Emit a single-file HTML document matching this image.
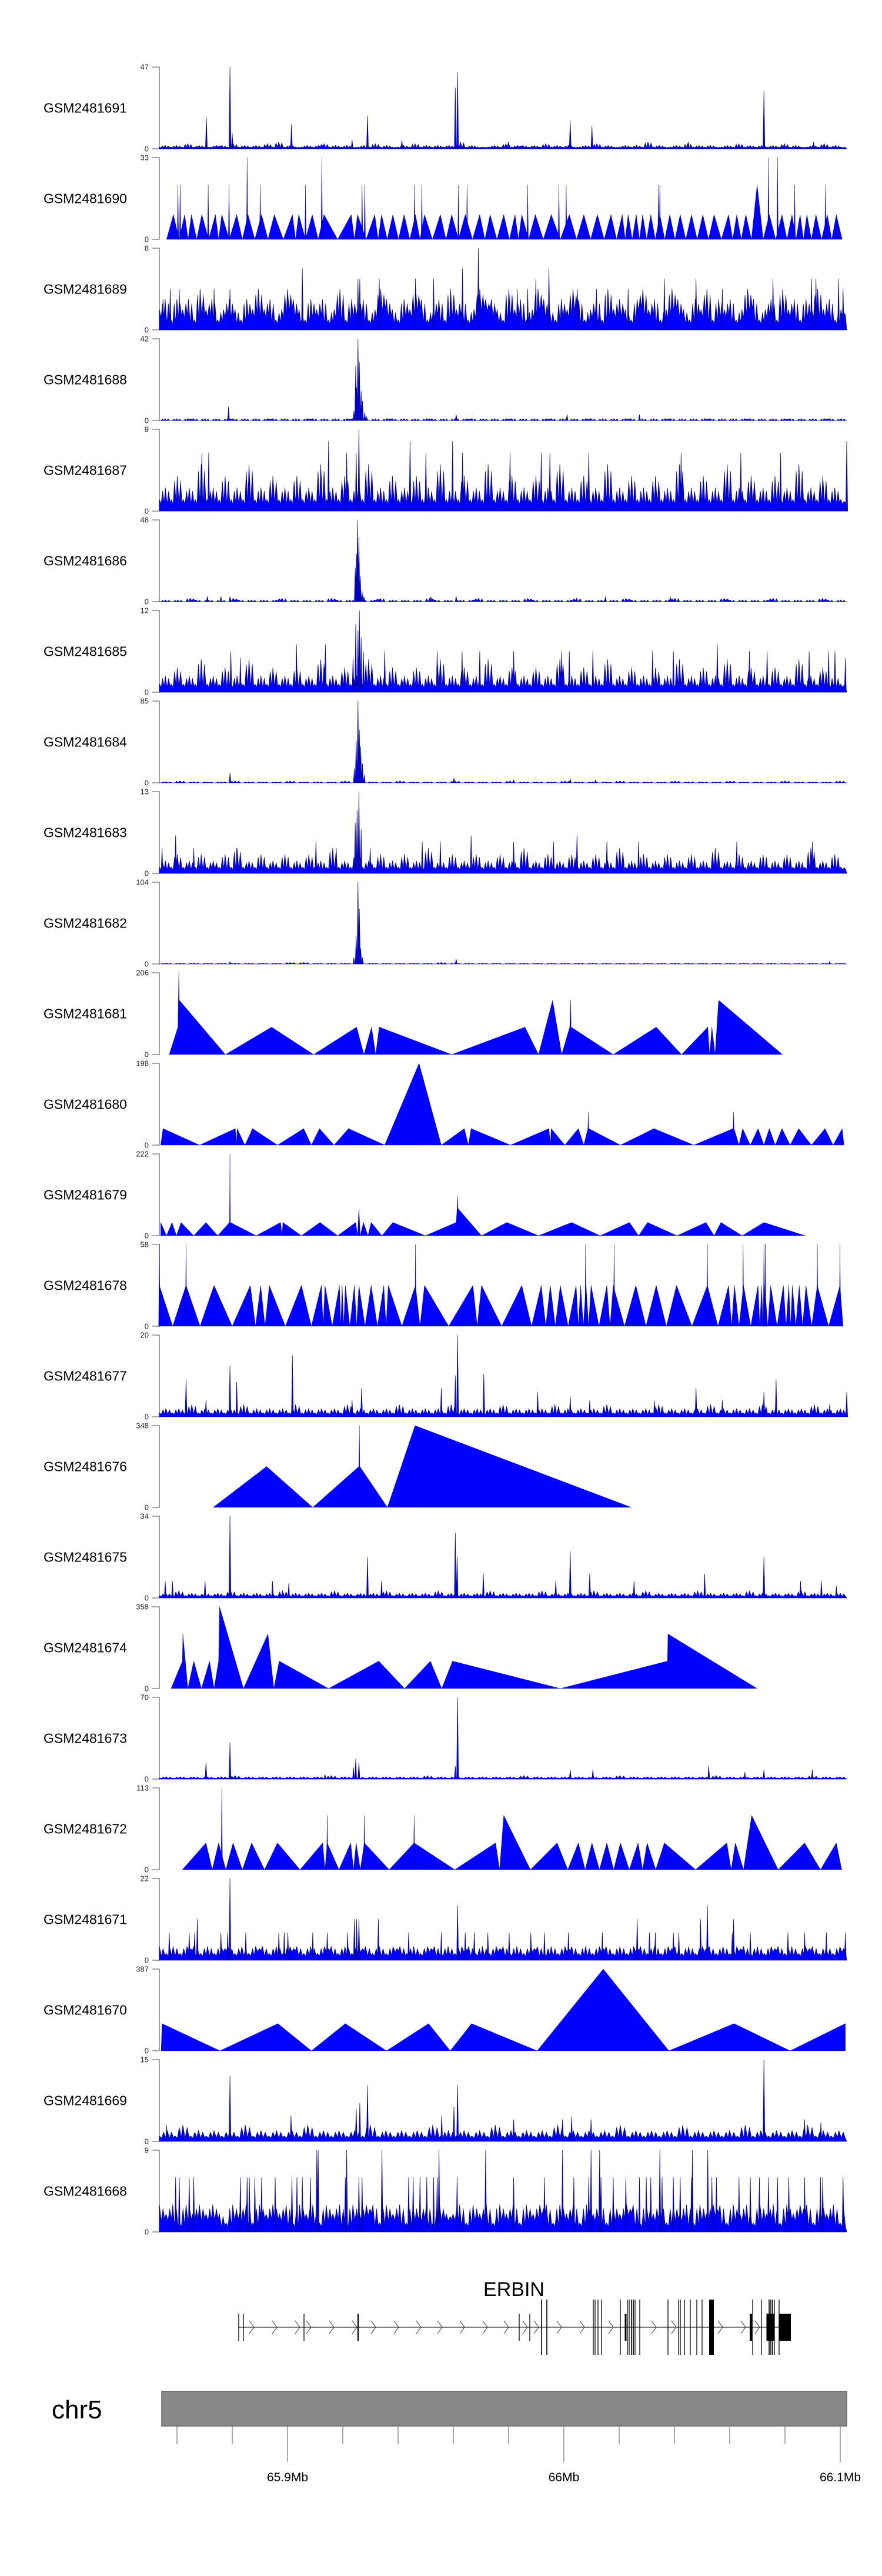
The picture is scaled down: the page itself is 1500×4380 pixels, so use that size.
<!DOCTYPE html>
<html><head><meta charset="utf-8"><title>ERBIN coverage tracks</title>
<style>
html,body{margin:0;padding:0;background:#fff;}
svg{display:block;font-family:"Liberation Sans",Arial,sans-serif;}
</style></head>
<body>
<svg id="chart" width="1500" height="4380" viewBox="0 0 1500 4380" xmlns="http://www.w3.org/2000/svg">
<rect x="0" y="0" width="1500" height="4380" fill="#fff"/>
<g id="tracks"></g>
<g id="gene"></g>
<g id="ideo"></g>
</svg>
<script>
// ---- track data (positions in relative window units 14..1533, values in read counts) ----
const trackNames = ["GSM2481691","GSM2481690","GSM2481689","GSM2481688","GSM2481687","GSM2481686","GSM2481685","GSM2481684","GSM2481683","GSM2481682","GSM2481681","GSM2481680","GSM2481679","GSM2481678","GSM2481677","GSM2481676","GSM2481675","GSM2481674","GSM2481673","GSM2481672","GSM2481671","GSM2481670","GSM2481669","GSM2481668"];
const trackMax = [47,33,8,42,9,48,12,85,13,104,206,198,222,58,20,348,34,358,70,113,22,387,15,9];
const trackKind = ["dense","apex","dense","dense","dense","dense","dense","dense","dense","dense","poly","poly","poly","apex","dense","poly","dense","poly","dense","apex","dense","poly","dense","dense"];

// dense tracks: background string (base-36 digits * unit) plus peak list
const base1691 = "1212131211221312121314121121231212112131211213121212141211121312212131212112131211212141211213121211213121212131211213121";
const peaks1691 = [[118,18],[170,47],[175,9],[306,14],[440,5],[474,19],[550,5],[668,35],[673,44],[785,4],[922,16],[970,13],[1183,4],[1350,33],[1460,4]];
const base1689 = "2313231423123213242312432132312413231243213243123142312433214231243213243123142321342312432132413231243123142313242312";
const peaks1689 = [[22,3],[38,4],[58,4],[135,4],[170,4],[330,6],[453,5],[457,5],[500,5],[580,5],[620,5],[684,6],[719,8],[805,4],[828,4],[846,5],[875,6],[938,4],[980,4],[1050,4],[1130,5],[1200,5],[1258,4],[1370,5],[1455,5],[1465,5],[1515,5],[1525,4]];
const base1688 = "0101011010101101010110101011010101101010110101011010101101010110101011010101101010110101011010101101010110101011010101101";
const peaks1688 = [[167,7],[444,5],[448,28],[450,17],[453,42],[456,30],[460,15],[463,10],[468,4],[472,2],[670,3],[915,3],[1075,3]];
const base1687 = "1213121412131214121312131214121312141213121312141213121412131213121412131214121312131214121312141213121312141213121";
const peaks1687 = [[108,6.4],[123,6.4],[388,7.7],[428,6.4],[449,6.4],[455,9],[568,7.7],[603,6.4],[662,7.7],[684,6.4],[789,6.4],[858,6.4],[877,6.4],[963,6.4],[1167,6.4],[1299,6.4],[1387,6.4],[1533,7.7]];
const base1686 = "0101021010102101010120101010210101012010101021010101201010102101010120101010210101012010101021010101201010102101";
const peaks1686 = [[120,3],[150,3],[170,3],[447,20],[450,28],[452,48],[455,38],[458,15],[462,6],[466,3],[614,3],[670,3],[1000,3],[1143,3]];
const base1685 = "1213121412131214121312131214121312141213121312141213121412131213121412131214121312131214121312141213121312141213121";
const peaks1685 = [[172,6],[193,5],[317,7],[381,7],[442,5],[448,10],[453,9],[456,12],[460,8],[465,6],[512,6],[628,6],[683,6],[722,6],[797,6],[903,6],[920,6],[972,6],[1104,6],[1150,6],[1247,7],[1318,6],[1357,6],[1450,6],[1493,6],[1507,6],[1530,5]];
const base1684 = "0102010101020101010201010102010101020101010201010102010101020101010201010102010101020101010201010102";
const peaks1684 = [[170,10],[445,15],[449,44],[453,85],[456,55],[459,38],[463,20],[467,8],[665,5],[797,3],[922,4],[978,3]];
const base1683 = "1213121312131412131213121312141213121312131214121312131213121412131213121312141213121312131214121312131213121412131";
const peaks1683 = [[20,4],[50,6],[90,4],[185,4],[360,5],[405,4],[447,8],[451,10],[455,13],[460,7],[480,4],[595,5],[635,5],[703,6],[797,5],[885,5],[937,6],[1003,5],[1073,5],[1290,5],[1457,5]];
const base1682 = "0101010101010101010202010101010101010101020101010101010101010101010101010101010101010101010101010101";
const peaks1682 = [[170,3],[444,8],[449,35],[453,104],[456,70],[459,20],[463,8],[670,6],[1495,3]];
const base1677 = "1212131212121312121213121212131212121312121213121212131212121312121213121212131212121312121213121212131212";
const peaks1677 = [[73,9],[117,4],[170,12.5],[185,8.5],[308,15],[440,4],[461,7],[637,7],[668,10],[673,20],[731,10.5],[850,6],[922,5],[965,4],[1108,4],[1200,7],[1258,4],[1350,6],[1377,9],[1495,3],[1533,6]];
const base1675 = "1213121212131212121312121213121212131212121312121213121212131212121312121213121212131212121312121213121212";
const peaks1675 = [[27,7],[43,7],[115,7],[170,34],[264,7],[300,6],[474,17],[505,7],[668,27],[672,17],[730,10],[890,7],[922,19.5],[965,10],[1063,7],[1219,10],[1350,17],[1431,7],[1477,7],[1510,5]];
const base1673 = "1212121212131212121212121312121212121213121212121212131212121212121312121212121213121212121212131212";
const peaks1673 = [[117,14],[170,31],[380,4],[443,10],[448,17],[455,14],[668,11],[673,70],[922,8],[972,8],[1228,11],[1308,6],[1350,8],[1457,8]];
const base1671 = "2121221212212122121221212212122121221212212122121221212212122121221212212122121221212212122121221212";
const peaks1671 = [[36,7.4],[80,7.4],[92,7.4],[98,11],[150,7.4],[165,7.4],[170,22],[205,7.4],[278,7.4],[290,7.4],[298,7.4],[353,7.4],[385,7.4],[430,7.4],[445,11],[450,11],[455,11],[498,11],[565,7.4],[637,7.4],[673,14.8],[690,7.4],[710,7.4],[740,7.4],[787,7.4],[835,7.4],[865,7.4],[918,7.4],[993,7.4],[1070,11],[1097,7.4],[1110,7.4],[1150,7.4],[1162,7.4],[1210,11],[1225,14.8],[1280,7.4],[1283,11],[1320,7.4],[1403,7.4],[1440,7.4],[1488,7.4],[1530,7.4]];
const base1669 = "1213121212131212121312121213121212131212121312121213121212131212121312121213121212131212";
const peaks1669 = [[30,3],[170,12],[305,4.7],[449,6],[457,7],[474,10.3],[638,4.7],[665,6.3],[673,10.3],[797,4],[905,4],[925,4.5],[968,4],[1350,15],[1440,4],[1476,3.5]];
const base1668 = "3231323232132313232313231323132331323132313223132313231323313231323132331323132313233132313231323313231";
const peaks1668 = [[50,6],[58,6],[80,6],[90,6],[193,6],[208,6],[213,6],[225,6],[240,6],[270,6],[307,6],[318,6],[330,6],[348,6],[362,9],[365,9],[425,6],[428,9],[455,6],[462,6],[506,9],[565,6],[575,6],[590,6],[605,6],[620,6],[628,6],[632,9],[672,6],[735,9],[797,6],[865,6],[905,9],[930,6],[963,6],[968,9],[987,9],[990,6],[1017,6],[1045,6],[1075,6],[1090,6],[1100,6],[1120,9],[1125,6],[1150,6],[1165,6],[1190,6],[1192,9],[1226,9],[1235,6],[1245,6],[1295,6],[1320,6],[1340,6],[1360,6],[1380,6],[1405,6],[1440,6],[1475,6],[1480,6],[1525,6]];

// apex tracks: triangle apices [pos,value]; valleys drop to zero between
const apex1690 = [[45,10],[70,10],[85,10],[108,10],[138,10],[152,10],[185,10],[210,10],[240,10],[268,10],[308,10],[322,10],[352,10],[378,10],[438,10],[452,10],[490,10],[505,10],[530,10],[555,10],[580,10],[600,10],[635,10],[660,10],[690,10],[722,10],[745,10],[775,10],[800,10],[815,10],[845,10],[880,10],[920,10],[952,10],[982,10],[1012,10],[1037,10],[1050,10],[1068,10],[1082,10],[1100,10],[1120,10],[1142,10],[1165,10],[1190,10],[1215,10],[1240,10],[1272,10],[1290,10],[1310,10],[1335,22],[1362,10],[1390,10],[1412,10],[1430,10],[1445,10],[1465,10],[1490,10],[1510,10]];
const spikes1690 = [[55,22],[60,22],[122,22],[168,22],[208,33],[237,22],[337,22],[373,33],[462,22],[468,22],[578,22],[594,22],[675,22],[694,22],[828,22],[897,22],[913,22],[1117,22],[1120,22],[1360,33],[1380,33],[1418,22],[1486,22]];
const ends1690 = [30,1523];
const apex1678 = [[14,29],[73,29],[135,29],[215,29],[238,29],[257,29],[328,29],[372,29],[380,29],[412,29],[418,29],[425,29],[445,29],[455,29],[482,29],[510,29],[520,29],[580,29],[600,29],[707,29],[726,29],[815,29],[858,29],[878,29],[900,29],[935,29],[945,29],[957,29],[968,29],[1003,29],[1017,29],[1067,29],[1112,29],[1157,29],[1225,29],[1272,29],[1285,29],[1305,29],[1337,29],[1345,29],[1352,29],[1365,29],[1393,29],[1405,29],[1413,29],[1428,29],[1443,29],[1468,29],[1518,29]];
const spikes1678 = [[14,58],[73,58],[580,58],[956,58],[1019,58],[1225,58],[1304,58],[1350,58],[1353,58],[1468,58],[1518,58]];
const ends1678 = [14,1525];
const apex1672 = [[117,37],[145,37],[177,37],[218,37],[275,37],[375,37],[385,37],[437,37],[449,37],[467,37],[577,37],[757,37],[775,75],[893,37],[940,37],[970,37],[1003,37],[1033,37],[1072,37],[1092,37],[1130,37],[1268,37],[1287,37],[1323,75],[1440,37],[1510,37]];
const spikes1672 = [[152,113],[385,75],[467,75],[577,75]];
const ends1672 = [65,1522];

// explicit polygon tracks: vertices [pos,value]
const poly1681 = [[36,0],[55,69],[57,206],[58,137],[160,0],[262,69],[355,0],[450,69],[466,0],[483,69],[492,0],[500,69],[660,0],[822,69],[852,0],[883,137],[903,0],[921,69],[923,137],[924,69],[1017,0],[1112,69],[1168,0],[1226,69],[1230,0],[1235,69],[1242,0],[1250,137],[1391,0]];
const poly1680 = [[17,0],[22,40],[103,0],[182,40],[184,0],[186,40],[203,0],[220,40],[275,0],[333,40],[350,0],[368,40],[400,0],[432,40],[512,0],[588,198],[637,0],[688,40],[697,0],[703,40],[790,0],[875,40],[878,0],[880,40],[910,0],[940,40],[952,0],[961,40],[962,80],[963,40],[1033,0],[1107,40],[1195,0],[1282,40],[1283,80],[1284,40],[1295,0],[1303,40],[1320,0],[1337,40],[1350,0],[1362,40],[1375,0],[1390,40],[1408,0],[1427,40],[1455,0],[1485,40],[1503,0],[1523,40],[1527,0]];
const poly1679 = [[17,0],[17,36],[30,0],[42,36],[52,0],[62,36],[90,0],[117,36],[143,0],[169,36],[170,222],[171,36],[228,0],[282,36],[285,0],[287,36],[328,0],[369,36],[408,0],[448,36],[452,0],[455,74],[458,0],[465,36],[475,0],[482,36],[506,0],[530,36],[602,0],[670,36],[672,74],[673,110],[674,74],[726,0],[782,36],[852,0],[925,36],[988,0],[1053,36],[1073,0],[1093,36],[1158,0],[1222,36],[1240,0],[1255,36],[1302,0],[1350,36],[1441,0]];
const poly1676 = [[133,0],[251,174],[353,0],[455,174],[456,348],[457,174],[518,0],[579,348],[1057,0]];
const poly1674 = [[40,0],[65,120],[66,239],[77,0],[90,120],[107,0],[125,120],[135,0],[145,120],[147,358],[200,0],[254,239],[267,0],[279,120],[388,0],[499,120],[556,0],[613,120],[638,0],[662,120],[900,0],[1137,120],[1138,239],[1335,0]];
const poly1670 = [[18,0],[20,129],[148,0],[276,129],[350,0],[425,129],[516,0],[609,129],[657,0],[704,129],[849,0],[995,387],[1140,0],[1284,129],[1408,0],[1530,129],[1530,0]];

const denseData = {
  "GSM2481691":[base1691,1,peaks1691],"GSM2481689":[base1689,1,peaks1689],"GSM2481688":[base1688,1,peaks1688],
  "GSM2481687":[base1687,9/7,peaks1687],"GSM2481686":[base1686,1,peaks1686],"GSM2481685":[base1685,1.2,peaks1685],
  "GSM2481684":[base1684,1,peaks1684],"GSM2481683":[base1683,1,peaks1683],"GSM2481682":[base1682,1,peaks1682],
  "GSM2481677":[base1677,1,peaks1677],"GSM2481675":[base1675,1,peaks1675],"GSM2481673":[base1673,1,peaks1673],
  "GSM2481671":[base1671,1.85,peaks1671],"GSM2481669":[base1669,1,peaks1669],"GSM2481668":[base1668,1,peaks1668]
};
const apexData = {"GSM2481690":[apex1690,spikes1690,ends1690],"GSM2481678":[apex1678,spikes1678,ends1678],"GSM2481672":[apex1672,spikes1672,ends1672]};
const polyData = {"GSM2481681":poly1681,"GSM2481680":poly1680,"GSM2481679":poly1679,"GSM2481676":poly1676,"GSM2481674":poly1674,"GSM2481670":poly1670};

// gene model (Mb; widths in px)
const geneName = "ERBIN";
const geneSpan = [65.88213,66.08213];
const shortExons = [[65.88234,1.3],[65.88404,1.3],[65.90596,1.3],[65.92553,2.2],[65.98383,1.3],[65.98766,1.3],[66.02234,3],[66.06766,4],[66.07468,13],[66.08000,20]];
const tallExons = [[65.99191,1.6],[65.99383,1.6],[66.01064,1.3],[66.01128,1.3],[66.01234,1.3],[66.01362,1.3],[66.02043,1.3],[66.02298,1.3],[66.02362,1.3],[66.02447,1.6],[66.02511,1.6],[66.02574,1.3],[66.02745,1.3],[66.03766,1.3],[66.04149,1.3],[66.04213,1.3],[66.04362,1.3],[66.04574,1.3],[66.04809,1.3],[66.05000,1.3],[66.05340,8],[66.06830,1.3],[66.07149,1.3],[66.07426,1.6],[66.07489,1.6],[66.07553,1.6],[66.07617,1.3],[66.07787,1.3]];
const chevrons = [65.88702,65.89532,65.90362,65.90766,65.91596,65.92426,65.93106,65.93936,65.94745,65.95511,65.96319,65.97149,65.97915,65.98596,65.99000,65.99830,66.00660,66.01702,66.03255,66.03979,66.05660,66.06489,66.07000];
const axisTicks = [65.86,65.88,65.90,65.92,65.94,65.96,65.98,66.00,66.02,66.04,66.06,66.08,66.10];
const axisLabels = [[65.9,"65.9Mb"],[66.0,"66Mb"],[66.1,"66.1Mb"]];

// ---- scales ----
const X0=271, X1=1440;
function xRel(p){ return X0 + (p-14)/(1533-14)*(X1-X0); }
function xMb(m){ return 489 + (m-65.9)*4700; }
const TOP0=114, ZERO0=253, PITCH=154, H=139;
const NS="http://www.w3.org/2000/svg";
function mk(tag, attrs, parent){ const e=document.createElementNS(NS,tag); for(const k in attrs) e.setAttribute(k,attrs[k]); parent.appendChild(e); return e; }

const tracks=document.getElementById('tracks');
trackNames.forEach((name,i)=>{
  const top=TOP0+PITCH*i, zero=ZERO0+PITCH*i, max=trackMax[i];
  const yv=v=>zero - Math.min(v,max)/max*H;
  const g=mk('g',{},tracks);
  
  
  const lab=mk('text',{x:145,y:(top+zero)/2+8,'text-anchor':'middle','font-size':'23',fill:'#000'},g);
  lab.textContent=name;
  
  
  const ax=mk('path',{d:`M259 ${top}H271V${zero}H259`,fill:'none',stroke:'#888','stroke-width':'1.6'},g);
  
  
  const tMax=mk('text',{x:253,y:top+4.5,'text-anchor':'end','font-size':'13',fill:'#222'},g);
  tMax.textContent=String(max);
  
  
  const tZero=mk('text',{x:253,y:zero+4.5,'text-anchor':'end','font-size':'13',fill:'#222'},g);
  tZero.textContent='0';
  
  
  let d='';
  const kind=trackKind[i];
  if(kind==='dense'){
    const [s,unit,pk]=denseData[name];
    const n=s.length, step=(X1-X0)/n;
    d=`M${X0} ${zero}`;
    for(let k=0;k<n;k++){
      const v=parseInt(s[k],36)*unit, nv=parseInt(s[(k+1)%n],36)*unit;
      const x=X0+k*step;
      d+=`L${x.toFixed(1)} ${yv(v).toFixed(1)}L${(x+step*0.3).toFixed(1)} ${yv(Math.min(v,nv)*0.6).toFixed(1)}L${(x+step*0.55).toFixed(1)} ${yv(Math.max(v,nv)*0.85).toFixed(1)}L${(x+step*0.8).toFixed(1)} ${yv(Math.min(v,nv)*0.7).toFixed(1)}`;
    }
    d+=`L${X1} ${zero}Z`;
    pk.forEach(([p,v])=>{const x=xRel(p); d+=`M${(x-1.6).toFixed(1)} ${zero}L${x.toFixed(1)} ${yv(v).toFixed(1)}L${(x+1.6).toFixed(1)} ${zero}Z`;});
  } else if(kind==='apex'){
    const [ap,sp,ends]=apexData[name];
    d=`M${xRel(ends[0]).toFixed(1)} ${zero}`;
    ap.forEach(([p,v],k)=>{
      d+=`L${xRel(p).toFixed(1)} ${yv(v).toFixed(1)}`;
      const nx = k<ap.length-1 ? (p+ap[k+1][0])/2 : ends[1];
      d+=`L${xRel(nx).toFixed(1)} ${zero}`;
    });
    d+='Z';
    sp.forEach(([p,v])=>{const x=xRel(p); d+=`M${(x-1.2).toFixed(1)} ${zero}L${x.toFixed(1)} ${yv(v).toFixed(1)}L${(x+1.2).toFixed(1)} ${zero}Z`;});
  } else {
    const pts=polyData[name];
    d='M'+pts.map(([p,v])=>`${xRel(p).toFixed(1)} ${yv(v).toFixed(1)}`).join('L')+`L${xRel(pts[pts.length-1][0]).toFixed(1)} ${zero}Z`;
  }
  const area=mk('path',{d:d,fill:'#0000ff',stroke:'#00008b','stroke-width':kind==='dense'?'0.7':'0.4','stroke-linejoin':'round'},g);
  
  
});

// ---- gene track ----
const gene=document.getElementById('gene');
const GY=3957;
const gl=mk('text',{x:874,y:3904,'text-anchor':'middle','font-size':'34',fill:'#000'},gene);
gl.textContent=geneName;


const line=mk('line',{x1:xMb(geneSpan[0]),x2:xMb(geneSpan[1]),y1:GY,y2:GY,stroke:'#333','stroke-width':'1.3'},gene);


let cd='';
chevrons.forEach(m=>{const x=xMb(m); cd+=`M${(x-4).toFixed(1)} ${GY-11}L${(x+4).toFixed(1)} ${GY}L${(x-4).toFixed(1)} ${GY+11}`;});
const chev=mk('path',{d:cd,fill:'none',stroke:'#333','stroke-width':'1'},gene);


shortExons.forEach(([m,w])=>{
  const r=mk('rect',{x:xMb(m)-w/2,y:GY-23,width:w,height:46,fill:'#000'},gene);
  
  
});
tallExons.forEach(([m,w])=>{
  const r=mk('rect',{x:xMb(m)-w/2,y:GY-47,width:w,height:94,fill:'#000'},gene);
  
  
});

// ---- chromosome axis ----
const ideo=document.getElementById('ideo');
const ct=mk('text',{x:88,y:4112,'font-size':'44',fill:'#000'},ideo);
ct.textContent='chr5';


const bar=mk('rect',{x:275,y:4066,width:1165,height:59,fill:'#888',stroke:'#666','stroke-width':'1.5'},ideo);


axisTicks.forEach(m=>{
  const major=axisLabels.some(a=>Math.abs(a[0]-m)<1e-6);
  const t=mk('line',{x1:xMb(m),x2:xMb(m),y1:4126,y2:major?4186:4156,stroke:'#555','stroke-width':'1'},ideo);
  
  
});
axisLabels.forEach(([m,s])=>{
  const t=mk('text',{x:xMb(m),y:4219,'text-anchor':'middle','font-size':'21',fill:'#000'},ideo);
  t.textContent=s;
  
  
});
</script>
</body></html>
